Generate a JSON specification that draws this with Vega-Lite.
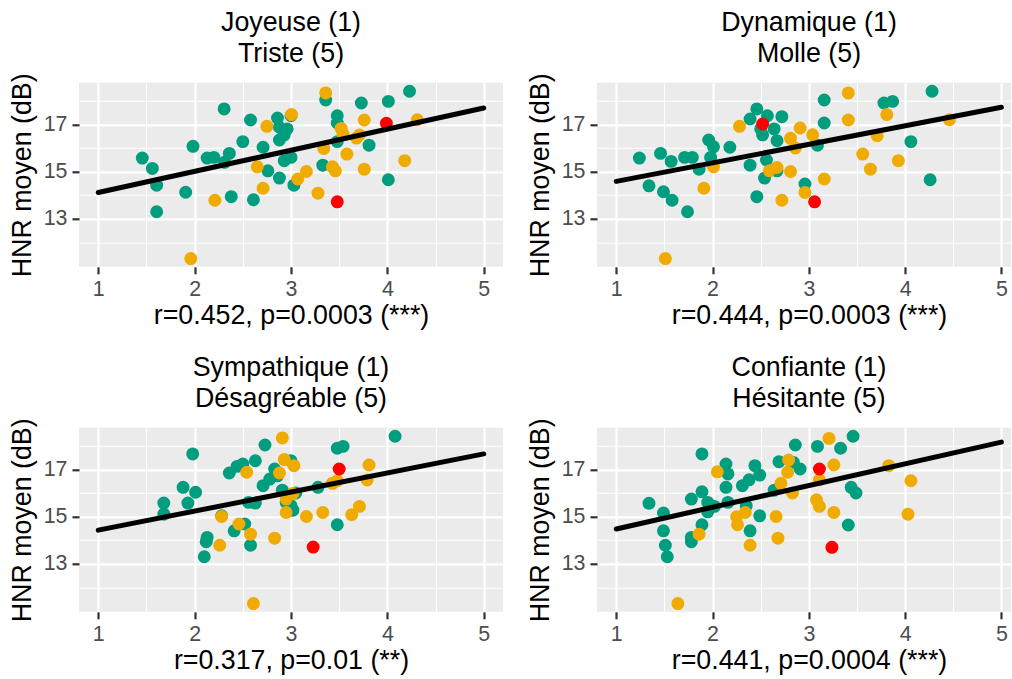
{
  "$schema": "https://vega.github.io/schema/vega-lite/v6.json",
  "autosize": {"type": "pad"},
  "padding": {"left": 9, "top": 9.8, "right": 0, "bottom": 0},
  "background": "white",
  "bounds": "flush",
  "columns": 2,
  "spacing": {"row": 161, "column": 94},
  "datasets": {
    "p1": [
      {"x":1.457,"y":15.58,"g":"t"},{"x":1.561,"y":15.14,"g":"t"},{"x":1.606,"y":14.43,"g":"t"},{"x":1.606,"y":13.30,"g":"t"},{"x":1.907,"y":14.13,"g":"t"},{"x":1.983,"y":16.08,"g":"t"},{"x":2.13,"y":15.58,"g":"t"},{"x":2.20,"y":15.61,"g":"t"},{"x":2.36,"y":15.78,"g":"t"},{"x":2.31,"y":15.40,"g":"t"},{"x":2.306,"y":17.67,"g":"t"},{"x":2.38,"y":13.94,"g":"t"},{"x":2.50,"y":16.28,"g":"t"},{"x":2.58,"y":17.20,"g":"t"},{"x":2.61,"y":13.81,"g":"t"},{"x":2.71,"y":16.04,"g":"t"},{"x":2.76,"y":15.04,"g":"t"},{"x":2.86,"y":17.28,"g":"t"},{"x":2.88,"y":16.89,"g":"t"},{"x":2.88,"y":16.35,"g":"t"},{"x":2.93,"y":16.57,"g":"t"},{"x":2.96,"y":16.82,"g":"t"},{"x":2.88,"y":14.73,"g":"t"},{"x":2.93,"y":15.47,"g":"t"},{"x":3.00,"y":15.61,"g":"t"},{"x":3.00,"y":17.38,"g":"t"},{"x":3.03,"y":14.43,"g":"t"},{"x":3.33,"y":15.28,"g":"t"},{"x":3.36,"y":18.05,"g":"t"},{"x":3.48,"y":17.38,"g":"t"},{"x":3.48,"y":17.07,"g":"t"},{"x":3.48,"y":16.28,"g":"t"},{"x":3.73,"y":17.92,"g":"t"},{"x":3.81,"y":16.13,"g":"t"},{"x":4.01,"y":17.99,"g":"t"},{"x":4.01,"y":14.66,"g":"t"},{"x":4.23,"y":18.42,"g":"t"},
      {"x":1.96,"y":11.31,"g":"o"},{"x":2.21,"y":13.79,"g":"o"},{"x":2.65,"y":15.21,"g":"o"},{"x":2.71,"y":14.30,"g":"o"},{"x":2.75,"y":16.93,"g":"o"},{"x":3.005,"y":17.43,"g":"o"},{"x":3.07,"y":14.69,"g":"o"},{"x":3.16,"y":15.01,"g":"o"},{"x":3.28,"y":14.09,"g":"o"},{"x":3.34,"y":15.99,"g":"o"},{"x":3.36,"y":18.35,"g":"o"},{"x":3.43,"y":15.21,"g":"o"},{"x":3.46,"y":15.04,"g":"o"},{"x":3.52,"y":16.84,"g":"o"},{"x":3.54,"y":16.60,"g":"o"},{"x":3.58,"y":15.75,"g":"o"},{"x":3.68,"y":16.43,"g":"o"},{"x":3.71,"y":16.56,"g":"o"},{"x":3.76,"y":17.20,"g":"o"},{"x":3.76,"y":15.11,"g":"o"},{"x":4.18,"y":15.47,"g":"o"},{"x":4.31,"y":17.21,"g":"o"},
      {"x":3.99,"y":17.06,"g":"r"},{"x":3.48,"y":13.72,"g":"r"}
    ],
    "p2": [
      {"x":1.24,"y":15.58,"g":"t"},{"x":1.34,"y":14.40,"g":"t"},{"x":1.46,"y":15.78,"g":"t"},{"x":1.49,"y":14.15,"g":"t"},{"x":1.57,"y":15.44,"g":"t"},{"x":1.58,"y":13.79,"g":"t"},{"x":1.71,"y":15.61,"g":"t"},{"x":1.79,"y":15.61,"g":"t"},{"x":1.74,"y":13.30,"g":"t"},{"x":1.86,"y":15.11,"g":"t"},{"x":1.96,"y":16.35,"g":"t"},{"x":2.01,"y":16.06,"g":"t"},{"x":1.98,"y":15.61,"g":"t"},{"x":2.18,"y":16.04,"g":"t"},{"x":2.39,"y":15.28,"g":"t"},{"x":2.39,"y":17.24,"g":"t"},{"x":2.46,"y":17.67,"g":"t"},{"x":2.46,"y":13.94,"g":"t"},{"x":2.54,"y":14.73,"g":"t"},{"x":2.52,"y":16.57,"g":"t"},{"x":2.57,"y":17.38,"g":"t"},{"x":2.56,"y":15.50,"g":"t"},{"x":2.64,"y":16.82,"g":"t"},{"x":2.67,"y":16.32,"g":"t"},{"x":2.67,"y":15.04,"g":"t"},{"x":2.72,"y":17.34,"g":"t"},{"x":2.96,"y":14.48,"g":"t"},{"x":3.09,"y":16.13,"g":"t"},{"x":3.16,"y":18.05,"g":"t"},{"x":3.16,"y":17.07,"g":"t"},{"x":3.78,"y":17.92,"g":"t"},{"x":3.87,"y":17.99,"g":"t"},{"x":4.06,"y":16.28,"g":"t"},{"x":4.26,"y":14.66,"g":"t"},{"x":4.28,"y":18.42,"g":"t"},{"x":2.50,"y":16.82,"g":"t"},
      {"x":1.51,"y":11.31,"g":"o"},{"x":1.91,"y":14.30,"g":"o"},{"x":2.01,"y":15.21,"g":"o"},{"x":2.28,"y":16.93,"g":"o"},{"x":2.59,"y":15.04,"g":"o"},{"x":2.67,"y":15.18,"g":"o"},{"x":2.72,"y":13.79,"g":"o"},{"x":2.81,"y":16.42,"g":"o"},{"x":2.81,"y":15.01,"g":"o"},{"x":2.86,"y":16.01,"g":"o"},{"x":2.91,"y":16.86,"g":"o"},{"x":2.96,"y":14.12,"g":"o"},{"x":3.04,"y":16.57,"g":"o"},{"x":3.16,"y":14.69,"g":"o"},{"x":3.41,"y":18.35,"g":"o"},{"x":3.41,"y":17.20,"g":"o"},{"x":3.56,"y":15.75,"g":"o"},{"x":3.64,"y":15.11,"g":"o"},{"x":3.71,"y":16.53,"g":"o"},{"x":3.81,"y":17.43,"g":"o"},{"x":3.93,"y":15.47,"g":"o"},{"x":4.46,"y":17.21,"g":"o"},
      {"x":2.52,"y":17.03,"g":"r"},{"x":3.06,"y":13.72,"g":"r"}
    ],
    "p3": [
      {"x":1.68,"y":15.58,"g":"t"},{"x":1.68,"y":15.11,"g":"t"},{"x":1.88,"y":16.25,"g":"t"},{"x":1.93,"y":15.58,"g":"t"},{"x":2.01,"y":16.04,"g":"t"},{"x":1.98,"y":17.67,"g":"t"},{"x":2.13,"y":14.12,"g":"t"},{"x":2.12,"y":13.94,"g":"t"},{"x":2.10,"y":13.30,"g":"t"},{"x":2.28,"y":15.04,"g":"t"},{"x":2.36,"y":16.86,"g":"t"},{"x":2.41,"y":14.40,"g":"t"},{"x":2.44,"y":17.14,"g":"t"},{"x":2.50,"y":17.24,"g":"t"},{"x":2.52,"y":14.69,"g":"t"},{"x":2.56,"y":15.61,"g":"t"},{"x":2.63,"y":15.58,"g":"t"},{"x":2.63,"y":17.38,"g":"t"},{"x":2.58,"y":13.79,"g":"t"},{"x":2.71,"y":16.32,"g":"t"},{"x":2.73,"y":18.05,"g":"t"},{"x":2.78,"y":16.60,"g":"t"},{"x":2.83,"y":17.03,"g":"t"},{"x":2.86,"y":16.74,"g":"t"},{"x":2.91,"y":16.13,"g":"t"},{"x":2.95,"y":15.61,"g":"t"},{"x":3.00,"y":17.38,"g":"t"},{"x":3.02,"y":15.28,"g":"t"},{"x":3.05,"y":16.01,"g":"t"},{"x":3.00,"y":15.47,"g":"t"},{"x":3.28,"y":16.25,"g":"t"},{"x":3.48,"y":17.91,"g":"t"},{"x":3.54,"y":17.99,"g":"t"},{"x":3.48,"y":14.66,"g":"t"},{"x":4.08,"y":18.42,"g":"t"},
      {"x":2.61,"y":11.31,"g":"o"},{"x":2.26,"y":13.79,"g":"o"},{"x":2.28,"y":15.01,"g":"o"},{"x":2.46,"y":14.69,"g":"o"},{"x":2.54,"y":16.89,"g":"o"},{"x":2.58,"y":14.26,"g":"o"},{"x":2.83,"y":14.09,"g":"o"},{"x":2.88,"y":16.86,"g":"o"},{"x":2.91,"y":18.35,"g":"o"},{"x":2.93,"y":17.43,"g":"o"},{"x":3.03,"y":17.17,"g":"o"},{"x":2.95,"y":15.75,"g":"o"},{"x":2.95,"y":15.18,"g":"o"},{"x":3.02,"y":15.99,"g":"o"},{"x":3.16,"y":15.01,"g":"o"},{"x":3.33,"y":15.18,"g":"o"},{"x":3.43,"y":16.42,"g":"o"},{"x":3.48,"y":16.53,"g":"o"},{"x":3.63,"y":15.09,"g":"o"},{"x":3.71,"y":15.44,"g":"o"},{"x":3.79,"y":16.56,"g":"o"},{"x":3.81,"y":17.20,"g":"o"},
      {"x":3.50,"y":17.03,"g":"r"},{"x":3.23,"y":13.71,"g":"r"}
    ],
    "p4": [
      {"x":1.34,"y":15.57,"g":"t"},{"x":1.49,"y":15.16,"g":"t"},{"x":1.49,"y":14.40,"g":"t"},{"x":1.51,"y":13.79,"g":"t"},{"x":1.53,"y":13.30,"g":"t"},{"x":1.78,"y":13.94,"g":"t"},{"x":1.78,"y":14.12,"g":"t"},{"x":1.78,"y":15.75,"g":"t"},{"x":1.89,"y":17.67,"g":"t"},{"x":1.89,"y":16.06,"g":"t"},{"x":1.89,"y":14.66,"g":"t"},{"x":1.95,"y":15.61,"g":"t"},{"x":1.95,"y":15.21,"g":"t"},{"x":2.02,"y":15.44,"g":"t"},{"x":2.14,"y":17.24,"g":"t"},{"x":2.16,"y":16.82,"g":"t"},{"x":2.14,"y":16.25,"g":"t"},{"x":2.16,"y":15.61,"g":"t"},{"x":2.31,"y":16.32,"g":"t"},{"x":2.35,"y":15.47,"g":"t"},{"x":2.38,"y":16.57,"g":"t"},{"x":2.39,"y":14.40,"g":"t"},{"x":2.44,"y":17.17,"g":"t"},{"x":2.49,"y":16.77,"g":"t"},{"x":2.49,"y":15.04,"g":"t"},{"x":2.64,"y":16.13,"g":"t"},{"x":2.69,"y":17.34,"g":"t"},{"x":2.84,"y":17.31,"g":"t"},{"x":2.86,"y":18.05,"g":"t"},{"x":2.91,"y":17.03,"g":"t"},{"x":3.09,"y":17.99,"g":"t"},{"x":3.33,"y":17.91,"g":"t"},{"x":3.41,"y":14.65,"g":"t"},{"x":3.44,"y":16.25,"g":"t"},{"x":3.49,"y":16.01,"g":"t"},{"x":3.46,"y":18.42,"g":"t"},
      {"x":1.64,"y":11.31,"g":"o"},{"x":1.86,"y":14.26,"g":"o"},{"x":2.05,"y":16.91,"g":"o"},{"x":2.25,"y":15.00,"g":"o"},{"x":2.26,"y":14.66,"g":"o"},{"x":2.34,"y":15.18,"g":"o"},{"x":2.39,"y":13.79,"g":"o"},{"x":2.66,"y":15.01,"g":"o"},{"x":2.68,"y":14.09,"g":"o"},{"x":2.71,"y":16.42,"g":"o"},{"x":2.78,"y":16.89,"g":"o"},{"x":2.79,"y":17.41,"g":"o"},{"x":2.83,"y":16.01,"g":"o"},{"x":3.08,"y":15.72,"g":"o"},{"x":3.11,"y":15.44,"g":"o"},{"x":3.11,"y":16.57,"g":"o"},{"x":3.21,"y":18.33,"g":"o"},{"x":3.26,"y":17.20,"g":"o"},{"x":3.26,"y":15.18,"g":"o"},{"x":3.83,"y":17.17,"g":"o"},{"x":4.06,"y":16.53,"g":"o"},{"x":4.03,"y":15.11,"g":"o"},
      {"x":3.11,"y":17.03,"g":"r"},{"x":3.24,"y":13.70,"g":"r"}
    ],
    "l1": [{"x":1,"y":14.12},{"x":5,"y":17.71}],
    "l2": [{"x":1,"y":14.59},{"x":5,"y":17.74}],
    "l3": [{"x":1,"y":14.43},{"x":5,"y":17.67}],
    "l4": [{"x":1,"y":14.48},{"x":5,"y":18.17}]
  },
  "concat": [
    {
      "width": 424, "height": 184,
      "title": {"text": ["Joyeuse (1)", "Triste (5)"]},
      "encoding": {
        "x": {"field": "x", "type": "quantitative", "scale": {"domain": [0.8, 5.2], "nice": false, "zero": false},
          "axis": {"title": "r=0.452, p=0.0003 (***)", "values": [1,1.5,2,2.5,3,3.5,4,4.5,5],
            "gridWidth": {"condition": {"test": "datum.value % 1 === 0", "value": 2.2}, "value": 1.1},
            "tickOpacity": {"condition": {"test": "datum.value % 1 === 0", "value": 1}, "value": 0},
            "labelExpr": "datum.value % 1 === 0 ? format(datum.value, 'd') : ''"}},
        "y": {"field": "y", "type": "quantitative", "scale": {"domain": [10.96, 18.78], "nice": false, "zero": false},
          "axis": {"title": "HNR moyen (dB)", "values": [12,13,14,15,16,17,18],
            "gridWidth": {"condition": {"test": "datum.value % 2 === 1", "value": 2.2}, "value": 1.1},
            "tickOpacity": {"condition": {"test": "datum.value % 2 === 1", "value": 1}, "value": 0},
            "labelExpr": "datum.value % 2 === 1 ? format(datum.value, 'd') : ''"}}
      },
      "layer": [
        {"data": {"name": "p1"}, "mark": {"type": "circle", "size": 168, "opacity": 1},
          "encoding": {"color": {"field": "g", "type": "nominal", "scale": {"domain": ["t","o","r"], "range": ["#009E7E","#EFAB00","#FF0000"]}, "legend": null}}},
        {"data": {"name": "l1"}, "mark": {"type": "line", "color": "black", "strokeWidth": 5, "strokeCap": "round"}, "encoding": {}}
      ]
    },
    {
      "width": 414, "height": 184,
      "title": {"text": ["Dynamique (1)", "Molle (5)"], "dx": 5},
      "encoding": {
        "x": {"field": "x", "type": "quantitative", "scale": {"domain": [0.8, 5.1], "nice": false, "zero": false},
          "axis": {"title": "r=0.444, p=0.0003 (***)", "titleX": 212, "values": [1,1.5,2,2.5,3,3.5,4,4.5,5],
            "gridWidth": {"condition": {"test": "datum.value % 1 === 0", "value": 2.2}, "value": 1.1},
            "tickOpacity": {"condition": {"test": "datum.value % 1 === 0", "value": 1}, "value": 0},
            "labelExpr": "datum.value % 1 === 0 ? format(datum.value, 'd') : ''"}},
        "y": {"field": "y", "type": "quantitative", "scale": {"domain": [10.96, 18.78], "nice": false, "zero": false},
          "axis": {"title": "HNR moyen (dB)", "values": [12,13,14,15,16,17,18],
            "gridWidth": {"condition": {"test": "datum.value % 2 === 1", "value": 2.2}, "value": 1.1},
            "tickOpacity": {"condition": {"test": "datum.value % 2 === 1", "value": 1}, "value": 0},
            "labelExpr": "datum.value % 2 === 1 ? format(datum.value, 'd') : ''"}}
      },
      "layer": [
        {"data": {"name": "p2"}, "mark": {"type": "circle", "size": 168, "opacity": 1},
          "encoding": {"color": {"field": "g", "type": "nominal", "scale": {"domain": ["t","o","r"], "range": ["#009E7E","#EFAB00","#FF0000"]}, "legend": null}}},
        {"data": {"name": "l2"}, "mark": {"type": "line", "color": "black", "strokeWidth": 5, "strokeCap": "round"}, "encoding": {}}
      ]
    },
    {
      "width": 424, "height": 184,
      "title": {"text": ["Sympathique (1)", "Désagréable (5)"]},
      "encoding": {
        "x": {"field": "x", "type": "quantitative", "scale": {"domain": [0.8, 5.2], "nice": false, "zero": false},
          "axis": {"title": "r=0.317, p=0.01 (**)", "values": [1,1.5,2,2.5,3,3.5,4,4.5,5],
            "gridWidth": {"condition": {"test": "datum.value % 1 === 0", "value": 2.2}, "value": 1.1},
            "tickOpacity": {"condition": {"test": "datum.value % 1 === 0", "value": 1}, "value": 0},
            "labelExpr": "datum.value % 1 === 0 ? format(datum.value, 'd') : ''"}},
        "y": {"field": "y", "type": "quantitative", "scale": {"domain": [10.96, 18.78], "nice": false, "zero": false},
          "axis": {"title": "HNR moyen (dB)", "values": [12,13,14,15,16,17,18],
            "gridWidth": {"condition": {"test": "datum.value % 2 === 1", "value": 2.2}, "value": 1.1},
            "tickOpacity": {"condition": {"test": "datum.value % 2 === 1", "value": 1}, "value": 0},
            "labelExpr": "datum.value % 2 === 1 ? format(datum.value, 'd') : ''"}}
      },
      "layer": [
        {"data": {"name": "p3"}, "mark": {"type": "circle", "size": 168, "opacity": 1},
          "encoding": {"color": {"field": "g", "type": "nominal", "scale": {"domain": ["t","o","r"], "range": ["#009E7E","#EFAB00","#FF0000"]}, "legend": null}}},
        {"data": {"name": "l3"}, "mark": {"type": "line", "color": "black", "strokeWidth": 5, "strokeCap": "round"}, "encoding": {}}
      ]
    },
    {
      "width": 414, "height": 184,
      "title": {"text": ["Confiante (1)", "Hésitante (5)"], "dx": 5},
      "encoding": {
        "x": {"field": "x", "type": "quantitative", "scale": {"domain": [0.8, 5.1], "nice": false, "zero": false},
          "axis": {"title": "r=0.441, p=0.0004 (***)", "titleX": 212, "values": [1,1.5,2,2.5,3,3.5,4,4.5,5],
            "gridWidth": {"condition": {"test": "datum.value % 1 === 0", "value": 2.2}, "value": 1.1},
            "tickOpacity": {"condition": {"test": "datum.value % 1 === 0", "value": 1}, "value": 0},
            "labelExpr": "datum.value % 1 === 0 ? format(datum.value, 'd') : ''"}},
        "y": {"field": "y", "type": "quantitative", "scale": {"domain": [10.96, 18.78], "nice": false, "zero": false},
          "axis": {"title": "HNR moyen (dB)", "values": [12,13,14,15,16,17,18],
            "gridWidth": {"condition": {"test": "datum.value % 2 === 1", "value": 2.2}, "value": 1.1},
            "tickOpacity": {"condition": {"test": "datum.value % 2 === 1", "value": 1}, "value": 0},
            "labelExpr": "datum.value % 2 === 1 ? format(datum.value, 'd') : ''"}}
      },
      "layer": [
        {"data": {"name": "p4"}, "mark": {"type": "circle", "size": 168, "opacity": 1},
          "encoding": {"color": {"field": "g", "type": "nominal", "scale": {"domain": ["t","o","r"], "range": ["#009E7E","#EFAB00","#FF0000"]}, "legend": null}}},
        {"data": {"name": "l4"}, "mark": {"type": "line", "color": "black", "strokeWidth": 5, "strokeCap": "round"}, "encoding": {}}
      ]
    }
  ],
  "config": {
    "view": {"fill": "#EBEBEB", "stroke": null},
    "axis": {
      "domain": false, "gridColor": "white", "tickColor": "#333333", "tickSize": 7, "tickWidth": 2.2,
      "labelColor": "#4D4D4D", "labelFont": "Liberation Sans", "labelFontSize": 21.4,
      "titleFont": "Liberation Sans", "titleFontSize": 26.8, "titleFontWeight": "normal", "titleColor": "black",
      "labelOverlap": false, "labelFlush": false
    },
    "axisX": {"labelPadding": 5, "titlePadding": 2},
    "axisY": {"labelPadding": 5, "titlePadding": 7},
    "title": {"font": "Liberation Sans", "fontSize": 26.8, "fontWeight": "normal", "color": "black", "anchor": "middle", "frame": "group", "lineHeight": 31, "offset": 4.9}
  }
}
